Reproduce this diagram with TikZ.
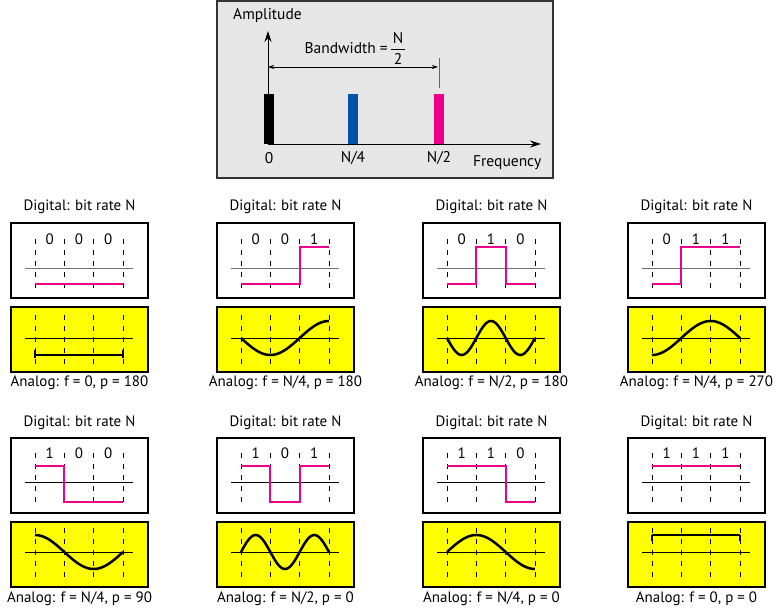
\documentclass[tikz,border=0pt]{standalone}
\usepackage{fontspec}
\setmainfont{PT Sans}
\usetikzlibrary{arrows.meta}
\definecolor{sigpink}{HTML}{EC008C}
\definecolor{barblue}{HTML}{0054A6}
\definecolor{boxgray}{HTML}{E6E6E6}
\definecolor{panelyellow}{HTML}{FFFF00}
\tikzset{
  lbl/.style={font=\fontsize{15}{17}\selectfont, inner sep=0pt},
  toplbl/.style={font=\fontsize{15.5}{17}\selectfont, inner sep=0pt},
  wbox/.style={draw=black, line width=1.3pt, fill=white},
  ybox/.style={draw=black, line width=1.3pt, fill=panelyellow},
  dashline/.style={draw=black, dash pattern=on 5pt off 6pt, line width=0.9pt},
  axisgray/.style={draw=black!55, line width=1pt},
  axisblack/.style={draw=black, line width=1pt},
  digsig/.style={draw=sigpink, line width=2pt},
  anasig/.style={draw=black, line width=2.5pt},
  bigarrow/.style={draw=black, line width=1pt, -{Stealth[length=11pt,width=7pt]}},
  dimarrow/.style={draw=black, line width=0.8pt, {Stealth[length=6pt,width=4pt]}-{Stealth[length=6pt,width=4pt]}},
}
% row parameters
\newcommand\rowone{%
  \def\Ty{207}\def\Wt{223}\def\Wax{268}\def\Hi{247}\def\Lo{283.5}\def\By{239}\def\Wdt{239}%
  \def\Yt{307}\def\Yax{338}\def\Ydt{315}\def\Cy{383}}
\newcommand\rowtwo{%
  \def\Ty{423}\def\Wt{438}\def\Wax{482}\def\Hi{465.5}\def\Lo{501.5}\def\By{453}\def\Wdt{453}%
  \def\Yt{522}\def\Yax{552}\def\Ydt{528}\def\Cy{599}}
% #1 name, #2 left x, #3-#5 bits, #6 analog function of \x, #7 caption, #8 axis style
\newcommand\sigpanel[8]{%
  \pgfmathsetmacro\Lx{#2}%
  \pgfmathsetmacro\Rx{#2+137}%
  \pgfmathsetmacro\Cx{#2+68.5}%
  \pgfmathsetmacro\dO{#2+24}%
  \pgfmathsetmacro\dI{#2+24+29.33}%
  \pgfmathsetmacro\dII{#2+24+58.67}%
  \pgfmathsetmacro\dIII{#2+112}%
  \node[lbl] (#1-title) at (\Cx,\Ty) {Digital: bit rate N};
  \draw[wbox] (\Lx,\Wt) rectangle (\Rx,\Wt+75);
  \draw[#8] (\Lx+14,\Wax) -- (\Lx+122,\Wax);
  \foreach \k in {\dO,\dI,\dII,\dIII}{\draw[dashline] (\k,\Wdt) -- ++(0,52);}
  \node[lbl,fill=white,inner sep=1pt] (#1-b1) at ({(\dO+\dI)/2},\By) {#3};
  \node[lbl,fill=white,inner sep=1pt] (#1-b2) at ({(\dI+\dII)/2},\By) {#4};
  \node[lbl,fill=white,inner sep=1pt] (#1-b3) at ({(\dII+\dIII)/2},\By) {#5};
  \draw[digsig] (\dO,{\Lo+#3*(\Hi-\Lo)}) -- (\dI,{\Lo+#3*(\Hi-\Lo)})
     -- (\dI,{\Lo+#4*(\Hi-\Lo)}) -- (\dII,{\Lo+#4*(\Hi-\Lo)})
     -- (\dII,{\Lo+#5*(\Hi-\Lo)}) -- (\dIII,{\Lo+#5*(\Hi-\Lo)});
  \draw[ybox] (\Lx,\Yt) rectangle (\Rx,\Yt+65);
  \draw[axisblack] (\Lx+14,\Yax) -- (\Lx+122,\Yax);
  \foreach \k in {\dO,\dI,\dII,\dIII}{\draw[dashline] (\k,\Ydt) -- ++(0,52);}
  \draw[anasig] plot[domain=0:3, samples=61] ({\dO+\x*29.33},{\Yax-17*(#6)});
  \node[lbl] (#1-cap) at (\Cx,\Cy) {#7};
}
\begin{document}
\begin{tikzpicture}[x=1pt,y=-1pt]
\useasboundingbox (0,0) rectangle (780,610);
% ---------- spectrum ----------
\draw[draw=black!80, line width=1.3pt, fill=boxgray] (217,1) rectangle (553,178);
\node[toplbl, anchor=west] (amp) at (233,16) {Amplitude};
\coordinate (origin) at (268,144);
\coordinate (ytip) at (268,31);
\coordinate (xtip) at (541,144);
\fill[black] (264,94) rectangle (274,144);
\fill[barblue] (348,94) rectangle (358,144);
\fill[sigpink] (434,94) rectangle (444,144);
\draw[bigarrow] (origin) -- (ytip);
\draw[bigarrow] (origin) -- (xtip);
\node[toplbl] (f0) at (269,158) {0};
\node[toplbl] (f4) at (353,158) {N/4};
\node[toplbl] (f2) at (439,158) {N/2};
\node[toplbl, anchor=west] (freq) at (473,163) {Frequency};
\coordinate (bwl) at (268,67);
\coordinate (bwr) at (438,67);
\draw[draw=black!60, line width=0.8pt] (439,58) -- (439,88);
\draw[dimarrow] (bwl) -- (bwr);
\node[toplbl, anchor=east] (bw) at (388,48) {Bandwidth =};
\node[toplbl] (bwn) at (398,38) {N};
\node[toplbl] (bwd) at (398,59) {2};
\draw[line width=0.8pt] (391,49) -- (405,49);
% ---------- row 1 ----------
\rowone
\sigpanel{p1}{11}{0}{0}{0}{-1}{Analog: f = 0, p = 180}{axisgray}
\draw[anasig] (35,350) -- (35,358) (123,350) -- (123,358);
\sigpanel{p2}{217}{0}{0}{1}{-sin(90*\x)}{Analog: f = N/4, p = 180}{axisgray}
\sigpanel{p3}{423}{0}{1}{0}{-sin(180*\x)}{Analog: f = N/2, p = 180}{axisgray}
\sigpanel{p4}{628}{0}{1}{1}{-cos(90*\x)}{Analog: f = N/4, p = 270}{axisgray}
% ---------- row 2 ----------
\rowtwo
\sigpanel{p5}{11}{1}{0}{0}{cos(90*\x)}{Analog: f = N/4, p = 90}{axisblack}
\sigpanel{p6}{217}{1}{0}{1}{sin(180*\x)}{Analog: f = N/2, p = 0}{axisblack}
\sigpanel{p7}{423}{1}{1}{0}{sin(90*\x)}{Analog: f = N/4, p = 0}{axisblack}
\sigpanel{p8}{628}{1}{1}{1}{1}{Analog: f = 0, p = 0}{axisblack}
\draw[anasig] (652,535) -- (652,541) (740,535) -- (740,541);
\end{tikzpicture}
\end{document}
